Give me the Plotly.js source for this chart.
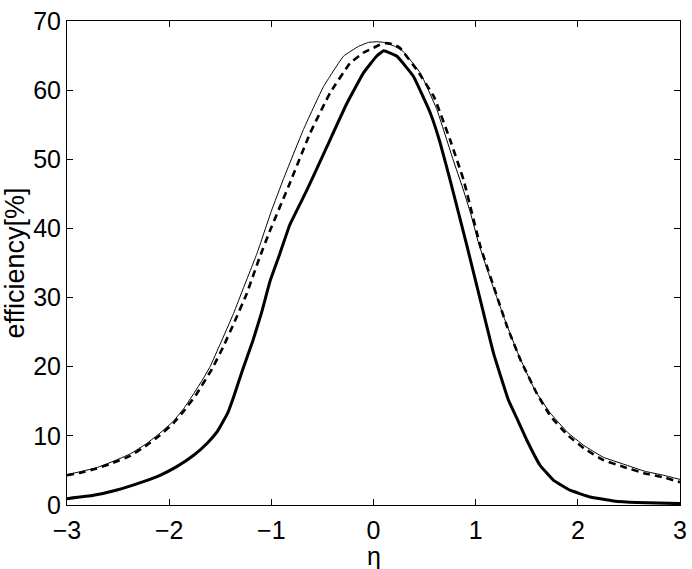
<!DOCTYPE html>
<html>
<head>
<meta charset="utf-8">
<script src="https://cdn.plot.ly/plotly-3.0.1.min.js"></script>
<style>html,body{margin:0;padding:0;background:#fff;}#chart{width:692px;height:569px;}</style>
</head>
<body>
<div id="chart"></div>
<script>
// Thin solid curve
const etaThin = [-3.0,-2.875,-2.71,-2.55,-2.38,-2.22,-2.09,-1.96,-1.85,-1.76,-1.67,-1.6,-1.5,-1.37,-1.27,-1.14,-1.0,-0.88,-0.686,-0.49,-0.294,-0.15,-0.05,0.03,0.1,0.2,0.29,0.458,0.62,0.78,0.87,0.95,1.03,1.16,1.29,1.42,1.58,1.73,1.9,2.06,2.25,2.45,2.65,2.84,3.0];
const effThin = [4.4,4.8,5.4,6.3,7.4,8.9,10.4,12.1,14.1,16.1,18.2,20.0,23.3,27.7,31.5,36.4,42.5,47.2,54.3,60.5,64.9,66.3,66.9,67.0,66.9,66.4,65.6,62.5,57.2,49.9,46.0,42.2,37.8,32.0,26.6,21.7,16.6,13.3,10.5,8.6,6.9,5.9,4.9,4.3,3.7];

// Dashed curve
const etaDash = [-3.0,-2.875,-2.71,-2.55,-2.38,-2.22,-2.09,-1.96,-1.85,-1.73,-1.58,-1.47,-1.36,-1.24,-1.12,-1.01,-0.82,-0.62,-0.425,-0.23,-0.1,-0.03,0.05,0.12,0.2,0.26,0.425,0.59,0.75,0.882,1.046,1.176,1.308,1.438,1.6,1.73,1.9,2.06,2.25,2.45,2.65,2.84,3.0];
const effDash = [4.3,4.64,5.27,6.09,7.1,8.64,10.1,11.8,13.7,16.1,19.7,22.9,26.5,30.6,35.6,39.8,46.5,53.8,59.6,63.9,65.4,65.9,66.5,66.8,66.6,66.1,62.9,59.1,52.8,47.0,37.4,31.6,25.8,21.0,16.1,12.9,10.1,8.2,6.5,5.5,4.6,4.0,3.3];

// Thick solid curve
const etaThick = [-3.0,-2.74,-2.52,-2.26,-2.09,-1.93,-1.76,-1.63,-1.53,-1.43,-1.37,-1.28,-1.18,-1.1,-1.01,-0.92,-0.82,-0.65,-0.457,-0.26,-0.098,0.03,0.1,0.23,0.39,0.556,0.65,0.75,0.916,1.078,1.176,1.32,1.42,1.5,1.63,1.76,1.93,2.12,2.35,2.58,3.0];
const effThick = [0.92,1.4,2.13,3.34,4.3,5.51,7.2,8.9,10.6,13.2,15.6,19.6,23.8,27.6,32.5,36.2,40.5,45.6,51.8,58.1,62.5,64.9,65.7,64.9,62.0,56.7,52.5,47.0,37.4,27.7,21.9,15.2,12.0,9.4,5.75,3.6,2.1,1.16,0.58,0.35,0.2];

const xTicks = [-3,-2,-1,0,1,2,3];
const yTicks = [0,10,20,30,40,50,60,70];
const xTitle = 'η';
const yTitle = 'efficiency[%]';

const traces = [
  {x: etaThin, y: effThin, mode: 'lines', line: {color: '#000', width: 1, shape: 'spline', smoothing: 0.3}, hoverinfo: 'skip'},
  {x: etaDash, y: effDash, mode: 'lines', line: {color: '#000', width: 2.6, dash: '7px,5px', shape: 'spline', smoothing: 0.3}, hoverinfo: 'skip'},
  {x: etaThick, y: effThick, mode: 'lines', line: {color: '#000', width: 3, shape: 'spline', smoothing: 0.3}, hoverinfo: 'skip'}
];

const fontFam = 'Liberation Sans, Arial, Helvetica, sans-serif';
const layout = {
  width: 692, height: 569,
  margin: {l: 67, r: 12, t: 21, b: 64},
  paper_bgcolor: '#fff', plot_bgcolor: '#fff',
  showlegend: false,
  font: {family: fontFam, color: '#000', size: 25},
  xaxis: {
    range: [-3, 3], tickvals: xTicks, ticktext: xTicks.map(v => v < 0 ? '\u2212' + Math.abs(v) : String(v)),
    ticks: 'inside', ticklen: 6, tickcolor: '#000', tickwidth: 1,
    showline: true, linecolor: '#000', linewidth: 1, mirror: 'ticks',
    showgrid: false, zeroline: false, ticklabelstandoff: 3,
    tickfont: {size: 25, family: fontFam}
  },
  yaxis: {
    range: [0, 70], tickvals: yTicks,
    ticks: 'inside', ticklen: 6, tickcolor: '#000', tickwidth: 1,
    showline: true, linecolor: '#000', linewidth: 1, mirror: 'ticks',
    showgrid: false, zeroline: false,
    tickfont: {size: 25, family: fontFam},
    title: {text: yTitle, font: {size: 27, family: fontFam}, standoff: 1}
  },
  annotations: [
    {text: xTitle, xref: 'x', x: 0, yref: 'paper', y: 0, xanchor: 'center', yanchor: 'top',
     yshift: -35, showarrow: false, font: {size: 25, family: fontFam, color: '#000'}}
  ]
};

Plotly.newPlot('chart', traces, layout, {staticPlot: true, displayModeBar: false});
</script>
</body>
</html>
